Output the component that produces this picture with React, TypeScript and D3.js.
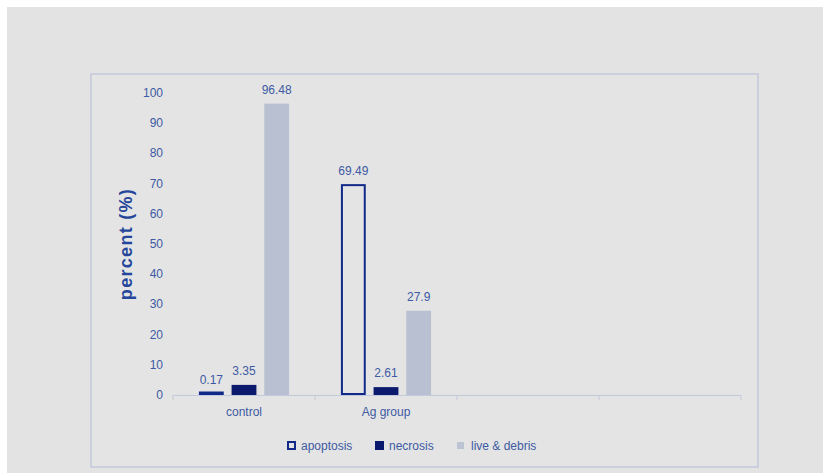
import React from "react";
import * as d3 from "d3";

const categories = ["control", "Ag group", "", ""];
const seriesNames = ["apoptosis", "necrosis", "live & debris"];
const apoptosis = [0.17, 69.49];
const necrosis = [3.35, 2.61];
const liveDebris = [96.48, 27.9];
const yTicks = [0, 10, 20, 30, 40, 50, 60, 70, 80, 90, 100];

const W = 823, H = 473;
const textColor = "#3d5aa3";
const font = "'Liberation Sans', Arial, sans-serif";

export default function App() {
  const x = d3.scaleBand<string>().domain(categories.map((c, i) => String(i))).range([173, 741]);
  const y = d3.scaleLinear().domain([0, 100]).range([395, 93]);
  const inner = d3.scaleBand<string>().domain(seriesNames).range([22, 120]).paddingInner(0.24).paddingOuter(0.12);
  const series = [apoptosis, necrosis, liveDebris];
  const fills = ["none", "#0c1a6e", "#b9c0d1"];
  const strokes = ["#112a8a", "none", "none"];

  return (
    <svg width={W} height={H} style={{ position: "absolute", left: 0, top: 0, display: "block" }}>
      <rect x={0} y={0} width={W} height={H} fill="#ffffff" />
      <rect x={7} y={7} width={W - 7} height={H - 7} fill="#e3e3e3" />
      <rect x={91} y={74} width={667} height={393} fill="#e4e4e4" stroke="#c3c9dc" strokeWidth={1.5} />
      {yTicks.map(t => (
        <text key={t} x={163} y={y(t) + 4} textAnchor="end" fontSize={12} fill={textColor} fontFamily={font}>{t}</text>
      ))}
      <text transform={`translate(132,${244}) rotate(-90)`} textAnchor="middle" fontSize={18} fontWeight="bold" letterSpacing={1.3} fill="#25469a" fontFamily={font}>percent (%)</text>
      <line x1={173} x2={741} y1={395.5} y2={395.5} stroke="#c3c9dc" strokeWidth={1.2} />
      {categories.map((c, i) => (
        <line key={"t" + i} x1={x(String(i))!} x2={x(String(i))!} y1={395} y2={400} stroke="#c3c9dc" />
      ))}
      <line x1={741} x2={741} y1={395} y2={400} stroke="#c3c9dc" />
      {categories.map((c, i) => (
        <text key={"c" + i} x={x(String(i))! + x.bandwidth() / 2} y={416} textAnchor="middle" fontSize={12} fill={textColor} fontFamily={font}>{c}</text>
      ))}
      {series.map((vals, s) =>
        vals.map((v, i) => {
          const bx = x(String(i))! + inner(seriesNames[s])!;
          const bw = inner.bandwidth();
          const top = y(v);
          const outlined = s === 0;
          const h = Math.max(outlined ? 1.5 : 0, y(0) - top - (outlined ? 1 : 0));
          return (
            <g key={s + "-" + i}>
              <rect x={outlined ? bx + 1 : bx} y={outlined ? y(0) - 1 - h : top} width={outlined ? bw - 2 : bw} height={h}
                fill={fills[s]} stroke={strokes[s]} strokeWidth={2} />
              <text x={bx + bw / 2} y={top - 10} textAnchor="middle" fontSize={12} fill={textColor} fontFamily={font}>{v}</text>
            </g>
          );
        })
      )}
      {seriesNames.map((n, i) => {
        const lx = [287, 375, 457][i];
        return (
          <g key={n}>
            {i === 0 && <rect x={lx + 1} y={442} width={7} height={7} fill="none" stroke="#112a8a" strokeWidth={2} />}
            {i === 1 && <rect x={lx} y={441} width={9} height={9} fill="#0c1a6e" />}
            {i === 2 && <rect x={lx} y={442} width={7} height={7} fill="#bcc3d3" />}
            <text x={lx + 14} y={450} fontSize={12} fill={textColor} fontFamily={font}>{n}</text>
          </g>
        );
      })}
    </svg>
  );
}
